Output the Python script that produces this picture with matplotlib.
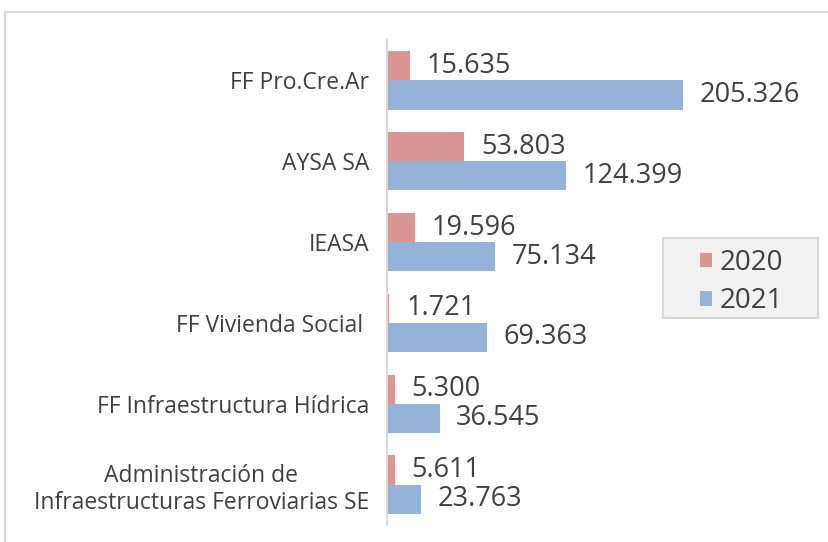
import matplotlib.pyplot as plt
import numpy as np
from matplotlib.lines import Line2D
from matplotlib.patches import Rectangle

categories = ["FF Pro.Cre.Ar", "AYSA SA", "IEASA", "FF Vivienda Social ",
              "FF Infraestructura Hídrica",
              "Administración de\nInfraestructuras Ferroviarias SE"]
vals_2020 = [15.635, 53.803, 19.596, 1.721, 5.300, 5.611]
vals_2021 = [205.326, 124.399, 75.134, 69.363, 36.545, 23.763]
series_names = ["2020", "2021"]

c2020 = "#D99694"
c2021 = "#95B3D7"
txt = "#404040"

plt.rcParams['font.family'] = ['Open Sans', 'DejaVu Sans']

fig = plt.figure(figsize=(8.29, 5.42), dpi=100)
ax = fig.add_axes([387 / 829, 17 / 542, 432 / 829, 485 / 542])

y = np.arange(len(categories))
h = 0.36
b1 = ax.barh(y - h / 2, vals_2020, height=h, color=c2020, label=series_names[0])
b2 = ax.barh(y + h / 2, vals_2021, height=h, color=c2021, label=series_names[1])

for bars, vals in ((b1, vals_2020), (b2, vals_2021)):
    for r, v in zip(bars, vals):
        ax.annotate("%.3f" % v, (r.get_width(), r.get_y() + r.get_height() / 2),
                    xytext=(12, 0), textcoords="offset points",
                    va="center", ha="left", fontsize=19.5, color=txt)

ax.set_xlim(0, 300)
ax.set_ylim(len(categories) - 0.5, -0.5)
ax.set_yticks(y)
ax.set_yticklabels(categories, fontsize=16.5, color=txt, ha="right", multialignment="center")
ax.tick_params(axis="y", length=0, pad=13)
ax.set_xticks([])
for s in ["top", "right", "bottom"]:
    ax.spines[s].set_visible(False)
ax.spines["left"].set_color("#D9D9D9")
ax.spines["left"].set_linewidth(1.5)

# legend box
fig.add_artist(Rectangle((663 / 829, 1 - 318 / 542), 155 / 829, 80 / 542, transform=fig.transFigure,
                         facecolor="#F2F2F2", edgecolor="#D9D9D9", lw=1.5, zorder=2))
leg = fig.legend(handles=[b1, b2], labels=series_names, loc="upper left",
                 bbox_to_anchor=(700 / 829, 1 - 249 / 542),
                 fontsize=20, frameon=False, handlelength=0.43, handleheight=0.43,
                 handletextpad=0.29, borderpad=0, labelspacing=0.37, borderaxespad=0)
leg.set_zorder(3)
for t in leg.get_texts():
    t.set_color(txt)

fig.add_artist(Line2D([5.5 / 829, 5.5 / 829], [0, 1 - 12 / 542], color="#D9D9D9", lw=1.5, transform=fig.transFigure))
fig.add_artist(Line2D([5.5 / 829, 1], [1 - 12 / 542, 1 - 12 / 542], color="#D9D9D9", lw=1.5, transform=fig.transFigure))

fig.savefig("out.png", dpi=100)
